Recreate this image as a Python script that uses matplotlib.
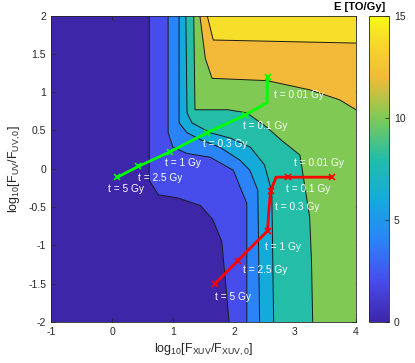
import numpy as np
import matplotlib
matplotlib.use("Agg")
import matplotlib.pyplot as plt
from matplotlib.colors import LinearSegmentedColormap, Normalize
import matplotlib.cm as cm

plt.rcParams['font.family'] = ['Liberation Sans', 'DejaVu Sans']
plt.rcParams['mathtext.fontset'] = 'custom'
plt.rcParams['mathtext.rm'] = 'Liberation Sans'
plt.rcParams['mathtext.it'] = 'Liberation Sans'

# ---- data: contour levels of E [TO/Gy] and their boundary curves ----
levels = [2, 4, 6, 8, 10, 12, 14]
vmin, vmax = 0, 15
c2_x = [0.61, 0.61, 0.76, 1.07, 1.45, 1.65, 1.80, 1.92]
c2_y = [2.0, -0.15, -0.34, -0.38, -0.48, -0.66, -0.95, -2.0]
c4_x = [0.92, 0.92, 1.00, 1.23, 1.61, 1.99, 2.10, 2.21, 2.21]
c4_y = [2.0, 0.47, 0.28, 0.20, 0.15, -0.02, -0.24, -0.45, -2.0]
c6_x = [1.10, 1.10, 1.23, 1.45, 1.77, 2.10, 2.26, 2.39, 2.42]
c6_y = [2.0, 0.60, 0.47, 0.38, 0.28, 0.11, -0.02, -0.28, -2.0]
c8_x = [1.21, 1.23, 1.31, 1.61, 1.94, 2.27, 2.50, 2.62, 2.65]
c8_y = [2.0, 0.73, 0.60, 0.47, 0.40, 0.28, 0.05, -0.30, -2.0]
c10_x = [1.34, 1.36, 1.90, 2.21, 2.54, 2.78, 3.08, 3.24, 3.27, 3.29]
c10_y = [2.0, 0.77, 0.77, 0.73, 0.54, 0.37, 0.18, -0.63, -1.19, -2.0]
c12_x = [1.44, 1.53, 1.64, 2.54, 3.24, 3.73, 4.00]
c12_y = [2.0, 1.44, 1.18, 1.15, 1.03, 0.90, 0.77]
c14_x = [1.56, 1.66, 4.00]
c14_y = [2.0, 1.68, 1.64]
curves = [(c2_x, c2_y), (c4_x, c4_y), (c6_x, c6_y), (c8_x, c8_y),
          (c10_x, c10_y), (c12_x, c12_y), (c14_x, c14_y)]

# trajectories
green_x = [0.09, 0.43, 0.95, 1.56, 2.18, 2.54, 2.55]
green_y = [-0.11, 0.03, 0.22, 0.47, 0.70, 0.86, 1.20]
green_mark = [0, 1, 2, 3, 4, 6]
red_x = [1.69, 2.06, 2.55, 2.57, 2.60, 2.69, 2.88, 3.60]
red_y = [-1.50, -1.20, -0.81, -0.55, -0.29, -0.11, -0.11, -0.11]
red_mark = [0, 1, 2, 4, 6, 7]

labels = ['t = 0.01 Gy', 't = 0.1 Gy', 't = 0.3 Gy', 't = 1 Gy', 't = 2.5 Gy', 't = 5 Gy']
green_lab_x = [2.65, 2.15, 1.49, 0.87, 0.43, -0.06]
green_lab_y = [0.96, 0.56, 0.32, 0.07, -0.12, -0.265]
red_lab_x = [2.98, 2.85, 2.68, 2.50, 2.15, 1.69]
red_lab_y = [0.07, -0.265, -0.50, -1.02, -1.32, -1.67]

xticks = [-1, 0, 1, 2, 3, 4]
yticks = [-2, -1.5, -1, -0.5, 0, 0.5, 1, 1.5, 2]
cticks = [0, 5, 10, 15]

# ---- parula-like colormap ----
anchors = [(0.0, (0.2422, 0.1504, 0.6603)),
           (0.133, (0.28, 0.30, 0.92)),
           (0.267, (0.17, 0.52, 0.97)),
           (0.40, (0.08, 0.67, 0.86)),
           (0.533, (0.14, 0.74, 0.66)),
           (0.667, (0.50, 0.79, 0.33)),
           (0.80, (0.95, 0.73, 0.22)),
           (0.933, (0.97, 0.87, 0.16)),
           (1.0, (0.9769, 0.9839, 0.0805))]
parula = LinearSegmentedColormap.from_list('parula', anchors)
norm = Normalize(vmin, vmax)

fig = plt.figure(figsize=(4.15, 3.63), dpi=100)
ax = fig.add_axes([51/415, 41/363, 305/415, 306.5/363])
ax.set_xlim(-1, 4)
ax.set_ylim(-2, 2)

ax.fill([-1, 4, 4, -1], [-2, -2, 2, 2], color=parula(norm(0)), lw=0, zorder=1)
for lev, (cx, cy) in zip(levels, curves):
    if cy[-1] == -2.0:
        px = list(cx) + [4, 4]
        py = list(cy) + [-2, 2]
    else:
        px = list(cx) + [4]
        py = list(cy) + [2]
    ax.fill(px, py, color=parula(norm(lev)), lw=0, zorder=2)
for cx, cy in curves:
    ax.plot(cx, cy, color='#1a1a1a', lw=0.7, zorder=3)

ax.plot(green_x, green_y, color=(0, 1, 0), lw=2, marker='x', ms=5, mew=1.2,
        markevery=green_mark, zorder=5)
ax.plot(red_x, red_y, color=(1, 0, 0), lw=2, marker='x', ms=5, mew=1.2,
        markevery=red_mark, zorder=5)
for t, x, y in zip(labels, green_lab_x, green_lab_y):
    ax.text(x, y, t, color='white', fontsize=7.3, va='center', ha='left', zorder=6)
for t, x, y in zip(labels, red_lab_x, red_lab_y):
    ax.text(x, y, t, color='white', fontsize=7.3, va='center', ha='left', zorder=6)

dark = (0.15, 0.15, 0.15)
ax.set_xticks(xticks)
ax.set_xticklabels([f'{v:g}' for v in xticks])
ax.set_yticks(yticks)
ax.set_yticklabels([f'{v:g}' for v in yticks])
ax.tick_params(direction='in', top=True, right=True, length=3, width=0.6,
               colors=dark, labelsize=7.5, labelcolor=dark)
for s in ax.spines.values():
    s.set_color(dark)
    s.set_linewidth(0.6)
ax.set_xlabel(r'log$_{10}$[F$_{\rm XUV}$/F$_{\rm XUV,0}$]', fontsize=9, color=dark, labelpad=4)
ax.set_ylabel(r'log$_{10}$[F$_{\rm UV}$/F$_{\rm UV,0}$]', fontsize=9, color=dark, labelpad=4)

cax = fig.add_axes([369/415, 41/363, 20/415, 306.5/363])
cb = fig.colorbar(cm.ScalarMappable(norm=norm, cmap=parula), cax=cax)
cb.set_ticks(cticks)
cb.outline.set_edgecolor(dark)
cb.outline.set_linewidth(0.6)
cax.tick_params(direction='in', length=3, width=0.6, colors=dark, labelsize=7.5, labelcolor=dark)
fig.text(360/415, 1 - 7/363, 'E [TO/Gy]', fontsize=8, fontweight='bold', ha='center', va='center', color='black')

fig.savefig('out.png', dpi=100)
